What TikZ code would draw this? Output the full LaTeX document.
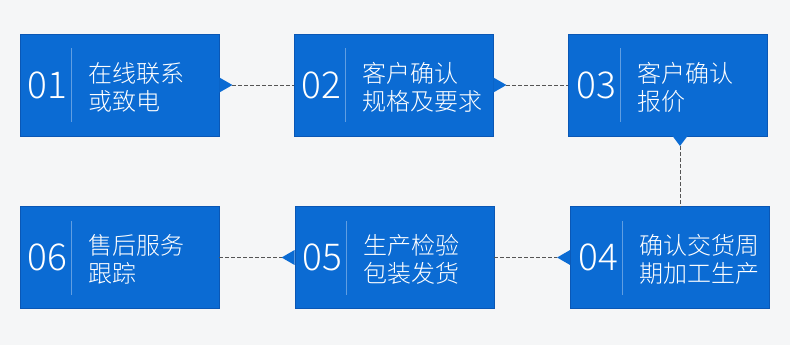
\documentclass[tikz,border=0pt]{standalone}
\usepackage{fontspec}
\setmainfont{Noto Sans CJK SC}
\newfontfamily\lightfont{Noto Sans CJK SC Light}
\definecolor{boxblue}{HTML}{0B6BD3}
\definecolor{boxedge}{HTML}{0A57B5}
\definecolor{bgcol}{HTML}{F5F6F7}
\definecolor{dashcol}{HTML}{555555}
\tikzset{
  box/.style={fill=boxblue, draw=boxedge, line width=0.8pt, minimum width=199pt, minimum height=102pt, inner sep=0pt},
  numtext/.style={text=white, font=\lightfont\fontsize{37}{37}\selectfont, inner sep=0pt},
  labtext/.style={text=white, font=\lightfont\fontsize{24}{28}\selectfont, align=left, inner sep=0pt, anchor=west},
  divline/.style={draw=white, draw opacity=0.35, line width=0.8pt},
  dashline/.style={draw=dashcol, line width=0.7pt, dash pattern=on 4pt off 2pt},
  tri/.style={fill=boxblue}
}
\begin{document}
\begin{tikzpicture}[x=1pt,y=-1pt]
\fill[bgcol] (0,0) rectangle (790,345);
\useasboundingbox (0,0) rectangle (790,345);
% boxes
\node[box] (b1) at (119.5,85) {};
\node[box] (b2) at (393.5,85) {};
\node[box] (b3) at (668,85) {};
\node[box] (b4) at (670,257.5) {};
\node[box] (b5) at (394.5,257.5) {};
\node[box] (b6) at (119.5,257.5) {};
% contents
\foreach \b/\n/\t in {b1/01/{在线联系\\或致电}, b2/02/{客户确认\\规格及要求}, b3/03/{客户确认\\报价}, b4/04/{确认交货周\\期加工生产}, b5/05/{生产检验\\包装发货}, b6/06/{售后服务\\跟踪}}{
  \node[numtext] (\b n) at ([xshift=28pt]\b.west) {\n};
  \draw[divline] ([xshift=52pt,yshift=-37pt]\b.west) -- ([xshift=52pt,yshift=37pt]\b.west);
  \node[labtext] (\b t) at ([xshift=69pt,yshift=-2pt]\b.west) {\t};
}
% triangles
\fill[tri] (b1.east) ++(0,-7.5) -- ++(13,7.5) coordinate (t1) -- ++(-13,7.5) -- cycle;
\fill[tri] (b2.east) ++(0,-7.5) -- ++(13,7.5) coordinate (t2) -- ++(-13,7.5) -- cycle;
\coordinate (b3s) at (680,136);
\fill[tri] (b3s) ++(-7.5,0) -- ++(7.5,10) coordinate (t3) -- ++(7.5,-10) -- cycle;
\fill[tri] (b4.west) ++(0,-7.5) -- ++(-13,7.5) coordinate (t4) -- ++(13,7.5) -- cycle;
\fill[tri] (b5.west) ++(0,-7.5) -- ++(-13,7.5) coordinate (t5) -- ++(13,7.5) -- cycle;
% connectors
\draw[dashline] (t1) -- (b2.west);
\draw[dashline] (t2) -- (b3.west |- t2);
\draw[dashline] (t3) -- (t3 |- b4.north);
\draw[dashline] (b5.east) -- (t4);
\draw[dashline] (b6.east) -- (t5);
\end{tikzpicture}
\end{document}
